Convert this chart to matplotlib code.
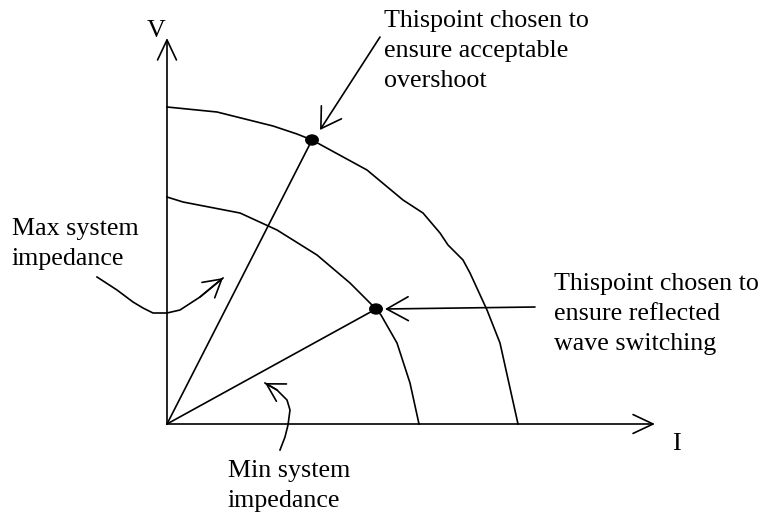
import numpy as np
import matplotlib
matplotlib.use("Agg")
import matplotlib.pyplot as plt
from matplotlib.patches import Ellipse

plt.close("all")

# ============================================================
# DATA  (I / V in arbitrary units, origin at the axes corner)
# ============================================================

# outer V-I boundary
OUTER_I = [0.0, 5.0, 10.6, 13.0, 14.5, 20.0, 23.6, 25.6, 27.3, 28.1,
           29.6, 30.3, 32.0, 33.3, 35.1]
OUTER_V = [31.7, 31.2, 29.8, 29.0, 28.4, 25.4, 22.4, 21.1, 19.1, 17.9,
           16.4, 15.1, 11.4, 8.1, 0.0]

# inner V-I boundary
INNER_I = [0.0, 1.6, 7.3, 11.0, 15.0, 18.3, 20.9, 21.4, 23.0, 24.3, 25.2]
INNER_V = [22.7, 22.2, 21.1, 19.4, 16.9, 14.1, 11.5, 10.9, 8.1, 4.1, 0.0]

# chosen operating points
POINT_I = [14.5, 20.9]
POINT_V = [28.4, 11.5]

# hand drawn pointer curves
MAX_CURVE_I = [-7.0, -5.0, -3.4, -2.4, -1.4, 0.0, 1.3, 3.3, 5.6]
MAX_CURVE_V = [14.7, 13.4, 12.2, 11.6, 11.1, 11.1, 11.4, 12.7, 14.6]

MIN_CURVE_I = [11.3, 11.8, 12.1, 12.3, 12.0, 11.0, 9.8]
MIN_CURVE_V = [-2.6, -1.3, -0.1, 1.4, 2.4, 3.4, 4.1]

# straight pointers (tail, tip)
OVERSHOOT_ARROW = [(21.3, 38.7), (15.3, 29.4)]
REFLECTED_ARROW = [(36.8, 11.7), (21.8, 11.5)]

AXIS_I_MAX = 48.8
AXIS_V_MAX = 38.6

LABELS = {
    "overshoot": "Thispoint chosen to\nensure acceptable\novershoot",
    "reflected": "Thispoint chosen to\nensure reflected\nwave switching",
    "max": "Max system\nimpedance",
    "min": "Min system\nimpedance",
}

# ============================================================
# STYLE
# ============================================================

LW = 1.2
FS = 18.7
LS = 1.48
plt.rcParams["font.family"] = ["Liberation Serif", "DejaVu Serif"]


def head(ax, tail, tip, hl, hw):
    ax.annotate(
        "",
        xy=tip,
        xytext=tail,
        arrowprops=dict(
            arrowstyle=f"->,head_length={hl},head_width={hw}",
            color="black",
            lw=LW,
            mutation_scale=1,
            shrinkA=0,
            shrinkB=0
        )
    )


def create_figure():

    fig = plt.figure(figsize=(7.61, 5.14), dpi=100)
    ax = fig.add_axes([0, 0, 1, 1])
    ax.set_xlim(-16.7, 59.4)
    ax.set_ylim(-9.0, 42.4)
    ax.axis("off")

    # axes with open arrow heads
    head(ax, (0, 0), (AXIS_I_MAX, 0), 14.4, 6.8)
    head(ax, (0, 0), (0, AXIS_V_MAX), 14.4, 6.8)

    ax.text(-1.1, 38.7, "V", fontsize=FS, ha="center", va="baseline")
    ax.text(50.9, -2.6, "I", fontsize=FS, ha="center", va="baseline")

    # boundaries
    ax.plot(OUTER_I, OUTER_V, color="black", lw=LW)
    ax.plot(INNER_I, INNER_V, color="black", lw=LW)

    # impedance lines from the origin
    for pi, pv in zip(POINT_I, POINT_V):
        ax.plot([0, pi], [0, pv], color="black", lw=LW)
        ax.add_patch(
            Ellipse((pi, pv), 1.25, 1.0, color="black", zorder=5)
        )

    # pointers
    head(ax, OVERSHOOT_ARROW[0], OVERSHOOT_ARROW[1], 14.0, 8.6)
    head(ax, REFLECTED_ARROW[0], REFLECTED_ARROW[1], 15.5, 8.6)

    ax.plot(MAX_CURVE_I, MAX_CURVE_V, color="black", lw=LW)
    head(ax, (MAX_CURVE_I[-2], MAX_CURVE_V[-2]),
         (MAX_CURVE_I[-1], MAX_CURVE_V[-1]), 12.5, 7.2)

    ax.plot(MIN_CURVE_I, MIN_CURVE_V, color="black", lw=LW)
    head(ax, (MIN_CURVE_I[-2], MIN_CURVE_V[-2]),
         (MIN_CURVE_I[-1], MIN_CURVE_V[-1]), 12.5, 7.2)

    # labels (y = baseline of the last line)
    ax.text(21.7, 33.7, LABELS["overshoot"], fontsize=FS,
            va="baseline", linespacing=LS)
    ax.text(38.7, 7.4, LABELS["reflected"], fontsize=FS,
            va="baseline", linespacing=LS)
    ax.text(-15.5, 15.9, LABELS["max"], fontsize=FS,
            va="baseline", linespacing=LS)
    ax.text(6.1, -8.3, LABELS["min"], fontsize=FS,
            va="baseline", linespacing=LS)

    fig.savefig("out.png", dpi=100)


def main():
    create_figure()


if __name__ == "__main__":
    main()
